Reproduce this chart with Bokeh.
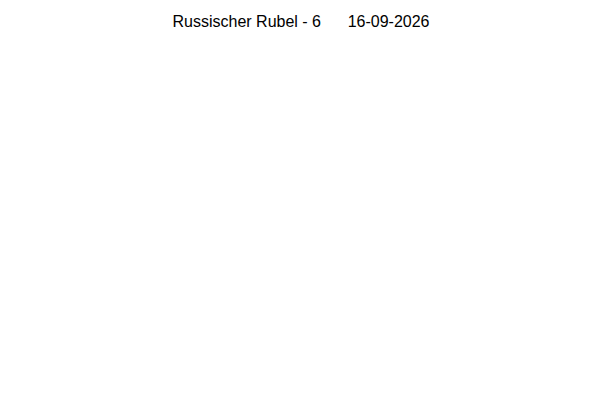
from bokeh.plotting import figure
from bokeh.models import ColumnDataSource, Range1d, Label
from bokeh.embed import file_html
from bokeh.resources import INLINE

# The reference chart has no plotted data: only the title is shown.
currency = "Russischer Rubel"
count = 6
date_label = "16-09-2026"
dates = []
rates = []

source = ColumnDataSource(data=dict(x=dates, y=rates))

gap = "\u00a0" * 6
title_text = f"{currency} - {count}{gap}{date_label}"

W, H = 584, 384
p = figure(width=W, height=H, output_backend="svg", toolbar_location=None,
           x_range=Range1d(0, 1), y_range=Range1d(0, 1))
p.line("x", "y", source=source, line_color="#1f77b4")

title = Label(x=W / 2 + 8.5, y=H - 21, x_units="screen", y_units="screen",
              text=title_text, text_align="center", text_baseline="alphabetic",
              text_font="Liberation Sans", text_font_size="16px",
              text_color="#000000")
p.add_layout(title)

p.axis.visible = False
p.grid.visible = False
p.outline_line_color = None
p.background_fill_color = "white"
p.border_fill_color = "white"
p.min_border = 0

open("out.html", "w").write(file_html(p, INLINE))
